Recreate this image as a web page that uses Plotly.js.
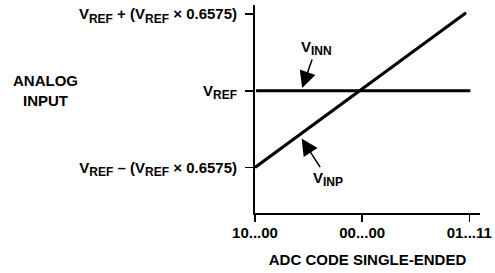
<!DOCTYPE html>
<html>
<head>
<meta charset="utf-8">
<script src="https://cdn.plot.ly/plotly-3.0.1.min.js"></script>
<style>html,body{margin:0;padding:0;background:#fff;}#chart{width:495px;height:273px;}</style>
</head>
<body>
<div id="chart"></div>
<script>
// Codes along the x axis (two's complement, single-ended)
const codePositions = [-1, 0, 1];
const codeLabels = ['10...00', '00...00', '01...11'];

// Analog input levels (in multiples of VREF, relative to VREF)
const levelPositions = [-0.6575, 0, 0.6575];
const levelLabels = [
  'V<sub><span style="font-size:12px">REF</span></sub> – (V<sub><span style="font-size:12px">REF</span></sub> × 0.6575)',
  'V<sub><span style="font-size:12px">REF</span></sub>',
  'V<sub><span style="font-size:12px">REF</span></sub> + (V<sub><span style="font-size:12px">REF</span></sub> × 0.6575)'
];

// VINP: rises linearly with code
const vinpX = [-1, 0.97];
const vinpY = [-0.6575, 0.67];

// VINN: held at VREF
const vinnX = [-0.99, 1.01];
const vinnY = [0, 0];

const FONT = 'Liberation Sans, Arial, Helvetica, sans-serif';
const b = s => '<b>' + s + '</b>';
const F = {family: FONT, size: 15, color: '#000', weight: 'bold'};

const traces = [
  {x: vinpX, y: vinpY, mode: 'lines', line: {color: '#000', width: 3}, hoverinfo: 'skip', showlegend: false},
  {x: vinnX, y: vinnY, mode: 'lines', line: {color: '#000', width: 3}, hoverinfo: 'skip', showlegend: false}
];

const layout = {
  width: 495, height: 273,
  margin: {l: 255, r: 15, t: 5, b: 60, pad: 0},
  paper_bgcolor: '#fff', plot_bgcolor: '#fff',
  font: F,
  showlegend: false,
  xaxis: {
    range: [-1, 1.1],
    tickmode: 'array', tickvals: codePositions, ticktext: codeLabels.map(b),
    ticks: 'outside', ticklen: 7, tickwidth: 1.5, tickcolor: '#000',
    showline: true, linewidth: 2, linecolor: '#000',
    showgrid: false, zeroline: false,
    tickfont: F, ticklabelstandoff: -2,
    title: {text: b('ADC CODE SINGLE-ENDED'), font: F, standoff: 14},
    fixedrange: true
  },
  yaxis: {
    range: [-1.0486, 0.7366],
    tickmode: 'array', tickvals: levelPositions, ticktext: levelLabels.map(b),
    ticks: 'outside', ticklen: 8, tickwidth: 1.5, tickcolor: '#000',
    showline: true, linewidth: 2, linecolor: '#000',
    showgrid: false, zeroline: false,
    tickfont: F, ticklabelstandoff: 5,
    fixedrange: true
  },
  annotations: [
    {
      xref: 'paper', yref: 'y', x: -0.929, y: 0, xanchor: 'center', yanchor: 'middle',
      text: b('ANALOG<br>INPUT'), showarrow: false, align: 'center', font: F
    },
    {
      xref: 'x', yref: 'y', x: -0.56, y: 0.025,
      text: b('V<sub><span style="font-size:12px">INN</span></sub>'), showarrow: true,
      ax: 14, ay: -40, arrowhead: 2, arrowsize: 2.2, arrowwidth: 1.5, arrowcolor: '#000', font: F
    },
    {
      xref: 'x', yref: 'y', x: -0.565, y: -0.41,
      text: b('V<sub><span style="font-size:12px">INP</span></sub>'), showarrow: true,
      ax: 26, ay: 40, arrowhead: 2, arrowsize: 2.2, arrowwidth: 1.5, arrowcolor: '#000', font: F
    }
  ]
};

Plotly.newPlot('chart', traces, layout, {displayModeBar: false, staticPlot: true});
</script>
</body>
</html>
